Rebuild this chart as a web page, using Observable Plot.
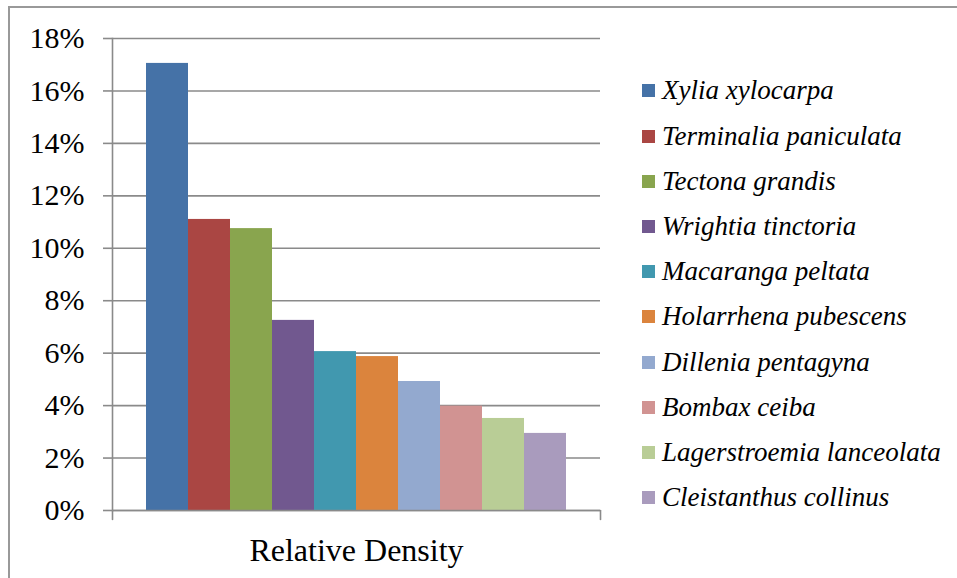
<!DOCTYPE html>
<html>
<head>
<meta charset="utf-8">
<script src="https://cdn.jsdelivr.net/npm/d3@7"></script>
<script src="https://cdn.jsdelivr.net/npm/@observablehq/plot@0.6"></script>
<style>
  body { margin: 0; background: #fff; overflow: hidden; }
  #wrap { position: relative; width: 957px; height: 578px; overflow: hidden; }
  #border { position: absolute; left: 8px; top: 6px; width: 1100px; height: 1100px;
            border: 2px solid #999; box-sizing: border-box; pointer-events: none; }
  #chart { position: absolute; left: 0; top: 0; }
  #legend { position: absolute; left: 642px; top: 68.4px;
            font-family: "Liberation Serif", "Times New Roman", serif; font-style: italic; font-size: 27px; color: #000; }
  .row { height: 45.2px; display: flex; align-items: center; white-space: nowrap; }
  .sw { width: 13px; height: 13px; margin-right: 7px; flex: none; }
</style>
</head>
<body>
<div id="wrap">
  <div id="border"></div>
  <div id="chart"></div>
  <div id="legend"></div>
</div>
<script>
const category = "Relative Density";
const species = [
  "Xylia xylocarpa",
  "Terminalia paniculata",
  "Tectona grandis",
  "Wrightia tinctoria",
  "Macaranga peltata",
  "Holarrhena pubescens",
  "Dillenia pentagyna",
  "Bombax ceiba",
  "Lagerstroemia lanceolata",
  "Cleistanthus collinus"
];
const values = [0.1705, 0.1110, 0.1075, 0.0725, 0.0606, 0.0587, 0.0492, 0.0398, 0.0351, 0.0294];
const colors = ["#4572A7", "#AA4643", "#89A54E", "#71588F", "#4198AF", "#DB843D", "#93A9CF", "#D19392", "#B9CD96", "#A99BBD"];
const yTicks = [0, 0.02, 0.04, 0.06, 0.08, 0.10, 0.12, 0.14, 0.16, 0.18];

const data = species.map((s, i) => ({category, species: s, value: values[i]}));

const serif = "'Liberation Serif', 'Times New Roman', serif";
const gray = "#8a8a8a";
const tickShape = {
  draw(context, length) { context.moveTo(0, 0); context.lineTo(0, -length); }
};

const chart = Plot.plot({
  width: 957,
  height: 578,
  marginLeft: 112,
  marginRight: 357,
  marginTop: 38,
  marginBottom: 68,
  style: { fontFamily: serif, background: "transparent", color: "#000" },
  fx: { domain: [category], padding: 0, label: null },
  x: { domain: species, paddingInner: 0, paddingOuter: 0.75, axis: null },
  y: { domain: [0, 0.18], label: null },
  color: { domain: species, range: colors },
  marks: [
    Plot.gridY(yTicks, { stroke: gray, strokeOpacity: 1, strokeWidth: 1.6 }),
    Plot.barY(data, { fx: "category", x: "species", y: "value", fill: "species" }),
    Plot.ruleY([0], { stroke: gray, strokeWidth: 1.6 }),
    Plot.frame({ anchor: "left", stroke: gray, strokeWidth: 1.6 }),
    Plot.vector([0], { y: d => d, frameAnchor: "left", length: 9, rotate: 180, anchor: "start", shape: tickShape, stroke: gray, strokeWidth: 1.6 }),
    Plot.vector([0], { y: d => d, frameAnchor: "right", length: 9, rotate: 180, anchor: "start", shape: tickShape, stroke: gray, strokeWidth: 1.6 }),
    Plot.axisY(yTicks, { tickSize: 9, tickPadding: 19, tickFormat: d3.format(".0%"), fontSize: 30, fontFamily: serif, fontVariant: "normal", stroke: gray, strokeWidth: 1.6, fill: "#000", label: null }),
    Plot.axisFx({ anchor: "bottom", tickSize: 0, tickPadding: 28, fontSize: 32, fontFamily: serif, fill: "#000", label: null })
  ]
});
document.getElementById("chart").appendChild(chart);

const legend = d3.select("#legend");
species.forEach((s, i) => {
  const row = legend.append("div").attr("class", "row");
  row.append("div").attr("class", "sw").style("background", colors[i]);
  row.append("span").text(s);
});
</script>
</body>
</html>
